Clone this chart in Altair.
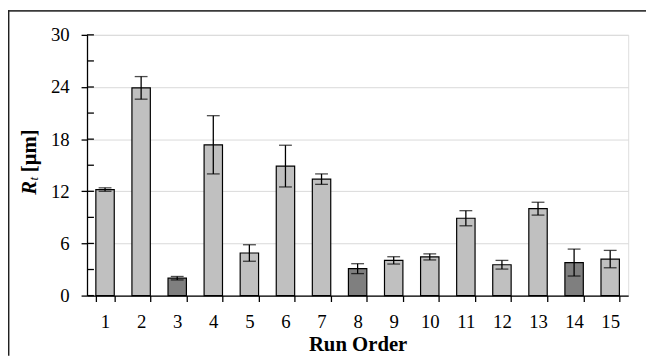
import altair as alt
import pandas as pd

# Data
runs = list(range(1, 16))
rt_mean = [12.2, 23.9, 2.0, 17.35, 4.9, 14.9, 13.4, 3.1, 4.05, 4.45, 8.9, 3.55, 10.0, 3.8, 4.2]
rt_err = [0.2, 1.3, 0.2, 3.35, 0.95, 2.4, 0.6, 0.57, 0.42, 0.35, 0.87, 0.5, 0.74, 1.55, 1.0]
group = ["light", "light", "dark", "light", "light", "light", "light", "dark",
         "light", "light", "light", "light", "light", "dark", "light"]
y_ticks = [0, 6, 12, 18, 24, 30]
minor_ticks = [0, 3, 6, 9, 12, 15, 18, 21, 24, 27, 30]

df = pd.DataFrame({"run": runs, "rt": rt_mean, "err": rt_err, "group": group})
df["lo"] = df["rt"] - df["err"]
df["hi"] = df["rt"] + df["err"]

FONT = "Liberation Serif"
W, H = 548, 264

xenc = alt.X(
    "run:O",
    scale=alt.Scale(paddingInner=0.49, paddingOuter=0.245),
    axis=alt.Axis(
        title="Run Order", labelAngle=0, tickBand="extent", tickSize=6,
        labelPadding=11, labelFontSize=19, labelFont=FONT, labelColor="black",
        titleFont=FONT, titleFontSize=21, titleFontWeight="bold", titleColor="black",
        titleY=56, titleBaseline="alphabetic",
        domainColor="black", domainWidth=1.3, tickColor="black", tickWidth=1.3,
        grid=False,
    ),
)
yscale = alt.Scale(domain=[0, 30], nice=False)

bars = alt.Chart(df).mark_bar(stroke="black", strokeWidth=1.2).encode(
    x=xenc,
    y=alt.Y(
        "rt:Q", scale=yscale,
        axis=alt.Axis(
            values=y_ticks, title=None, tickSize=6, labelPadding=12,
            labelFontSize=19, labelFont=FONT, labelColor="black",
            domainColor="black", domainWidth=1.3, tickColor="black", tickWidth=1.3,
            grid=True, gridColor="#d9d9d9", gridWidth=1,
        ),
    ),
    color=alt.Color("group:N", scale=alt.Scale(domain=["light", "dark"], range=["#c0c0c0", "#7f7f7f"]), legend=None),
)

err_rule = alt.Chart(df).mark_rule(color="black", strokeWidth=1.3).encode(
    x=alt.X("run:O"), y=alt.Y("lo:Q", scale=yscale), y2="hi:Q"
)
cap_hi = alt.Chart(df).mark_tick(color="black", thickness=1.3, size=13, orient="horizontal").encode(
    x=alt.X("run:O"), y=alt.Y("hi:Q", scale=yscale)
)
cap_lo = alt.Chart(df).mark_tick(color="black", thickness=1.3, size=13, orient="horizontal").encode(
    x=alt.X("run:O"), y=alt.Y("lo:Q", scale=yscale)
)

inner_ticks = alt.Chart(pd.DataFrame({"v": minor_ticks})).mark_rule(color="black", strokeWidth=1.3).encode(
    y=alt.Y("v:Q", scale=yscale), x=alt.value(0), x2=alt.value(7)
)

one = pd.DataFrame({"a": [0]})
frame_top = alt.Chart(one).mark_rule(color="#3a3a3a", strokeWidth=1.6).encode(
    x=alt.value(-80), x2=alt.value(W + 18), y=alt.value(-24.3)
)
frame_left = alt.Chart(one).mark_rule(color="#202020", strokeWidth=1.5).encode(
    x=alt.value(-79.3), y=alt.value(-25), y2=alt.value(H + 61)
)

t_R = alt.Chart(one).mark_text(
    text="R", font=FONT, fontSize=21, fontWeight="bold", fontStyle="italic",
    angle=270, align="left", baseline="alphabetic", color="black"
).encode(x=alt.value(-52), y=alt.value(162))
t_t = alt.Chart(one).mark_text(
    text="t", font=FONT, fontSize=13, fontStyle="italic",
    angle=270, align="left", baseline="alphabetic", color="black"
).encode(x=alt.value(-50), y=alt.value(147.5))
t_unit = alt.Chart(one).mark_text(
    text="[μm]", font=FONT, fontSize=21, fontWeight="bold",
    angle=270, align="left", baseline="alphabetic", color="black"
).encode(x=alt.value(-52), y=alt.value(139))

chart = alt.layer(
    bars, err_rule, cap_hi, cap_lo, inner_ticks, frame_top, frame_left, t_R, t_t, t_unit
).properties(
    width=W, height=H,
    autosize=alt.AutoSizeParams(type="none"),
    padding={"left": 80, "top": 25, "right": 18, "bottom": 61},
).configure_view(stroke="#d9d9d9", strokeWidth=1.3).configure(background="white")

chart.save("out.html", embed_options={"renderer": "svg", "actions": False})
